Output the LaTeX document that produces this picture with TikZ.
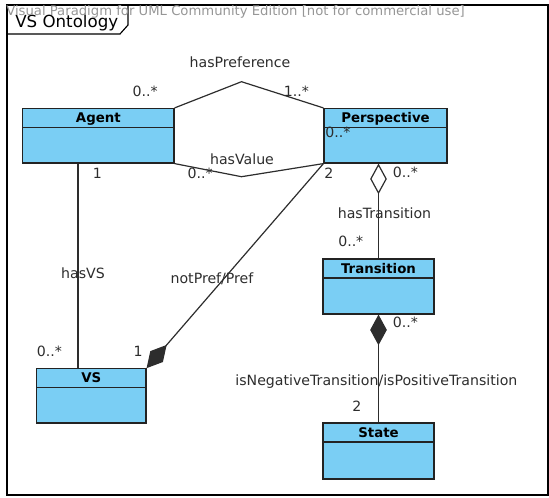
\documentclass[tikz,border=0pt]{standalone}
\usepackage{fontspec}
\setmainfont{DejaVu Sans}
\usepackage{xcolor}
\usepackage{tikz}
\usetikzlibrary{arrows.meta,calc,positioning}

\definecolor{classfill}{RGB}{122,206,244}
\definecolor{classborder}{RGB}{35,35,35}
\definecolor{labeltext}{RGB}{45,45,45}
\definecolor{watermarkgray}{RGB}{150,150,150}

\tikzset{
  umlclass/.style={draw=classborder, fill=classfill, line width=0.85pt, inner sep=0pt, minimum height=40.9pt},
  classline/.style={draw=classborder, line width=0.85pt},
  classname/.style={anchor=base, inner sep=0pt, text=black, font=\fontsize{10}{12}\selectfont\bfseries},
  assoc/.style={draw=labeltext, line width=0.9pt},
  aggregation/.style={arrows={Diamond[open, fill=white, length=23pt, width=12.5pt]-}},
  composition/.style={arrows={-Diamond[length=23pt, width=12.5pt]}},
  mult/.style={anchor=base west, inner sep=0pt, text=labeltext, font=\fontsize{10.6}{12}\selectfont},
  rolename/.style={anchor=base, inner sep=0pt, text=labeltext, font=\fontsize{10.6}{12}\selectfont}
}

\begin{document}
\begin{tikzpicture}[x=0.75pt,y=0.75pt,yscale=-1,xscale=1]
\useasboundingbox (0,0) rectangle (549,497);

%Shape: Frame
\draw [line width=1.1pt] (7,5) rectangle (548,495) ;
%Shape: Frame tab
\draw [line width=0.85pt] (7,34) -- (120,34) -- (128,25) -- (128,5) ;
% Text Node
\node [anchor=base west, inner sep=0pt, font=\fontsize{12.5}{14}\selectfont] (title) at (15,27) {VS Ontology};

%Shape: Classes
\node [umlclass, minimum width=113.5pt] (agent) at (98.35,135.75) {};
\node [umlclass, minimum width=92.25pt] (perspective) at (385.5,135.75) {};
\node [umlclass, minimum width=83.25pt, minimum height=41.25pt] (transition) at (378.5,286.5) {};
\node [umlclass, minimum width=82pt, minimum height=40.7pt] (vs) at (91.35,395.85) {};
\node [umlclass, minimum width=83.25pt, minimum height=42pt] (state) at (378.5,451) {};

\foreach \cls/\txt in {agent/Agent, perspective/Perspective, transition/Transition, vs/VS, state/State} {
  \draw [classline] ($(\cls.north west)+(0,19.5)$) -- ($(\cls.north east)+(0,19.5)$) ;
  \node [classname] (\cls-name) at ($(\cls.north)+(0,14.6)$) {\txt};
}

%Straight Lines
\coordinate (prefbend) at (241.5,81.7);
\coordinate (valuebend) at (241.5,176.7);
\coordinate (vsline) at (78,300);
\draw [assoc] (agent.north east) -- (prefbend) -- (perspective.north west) ;
\draw [assoc] (agent.south east) -- (valuebend) -- (perspective.south west) ;
\draw [assoc] (agent.south -| vsline) -- (vs.north -| vsline) ;
\draw [assoc, composition] (perspective.south west) -- (vs.north east) ;
\draw [assoc, aggregation] (perspective.south -| transition.north) -- (transition.north) ;
\draw [assoc, composition] (state.north) -- (transition.south) ;

% Text Node
\node [rolename] (preflabel) at (240,67) {hasPreference};
\node [rolename] (valuelabel) at (242,164) {hasValue};
\node [rolename] (vslabel) at (83,278) {hasVS};
\node [rolename] (notpreflabel) at (212,283) {notPref/Pref};
\node [rolename] (translabel) at (384.5,218) {hasTransition};
\node [rolename] (signlabel) at (376.4,385) {isNegativeTransition/isPositiveTransition};

% Text Node
\node [mult] (m1) at (132.4,96) {0..*};
\node [mult] (m2) at (283.6,96) {1..*};
\node [mult] (m3) at (325,137) {0..*};
\node [mult] (m4) at (92.7,178) {1};
\node [mult] (m5) at (187.3,178) {0..*};
\node [mult] (m6) at (324,178) {2};
\node [mult] (m7) at (392.7,177) {0..*};
\node [mult] (m8) at (338,246.5) {0..*};
\node [mult] (m9) at (392.7,327) {0..*};
\node [mult] (m10) at (36.7,356.5) {0..*};
\node [mult] (m11) at (133.3,356.5) {1};
\node [mult] (m12) at (352,411) {2};

% Text Node
\node [anchor=base west, inner sep=0pt, text=watermarkgray, font=\fontsize{9.9}{12}\selectfont] (watermark) at (6,15) {Visual Paradigm for UML Community Edition [not for commercial use]};

\end{tikzpicture}
\end{document}
